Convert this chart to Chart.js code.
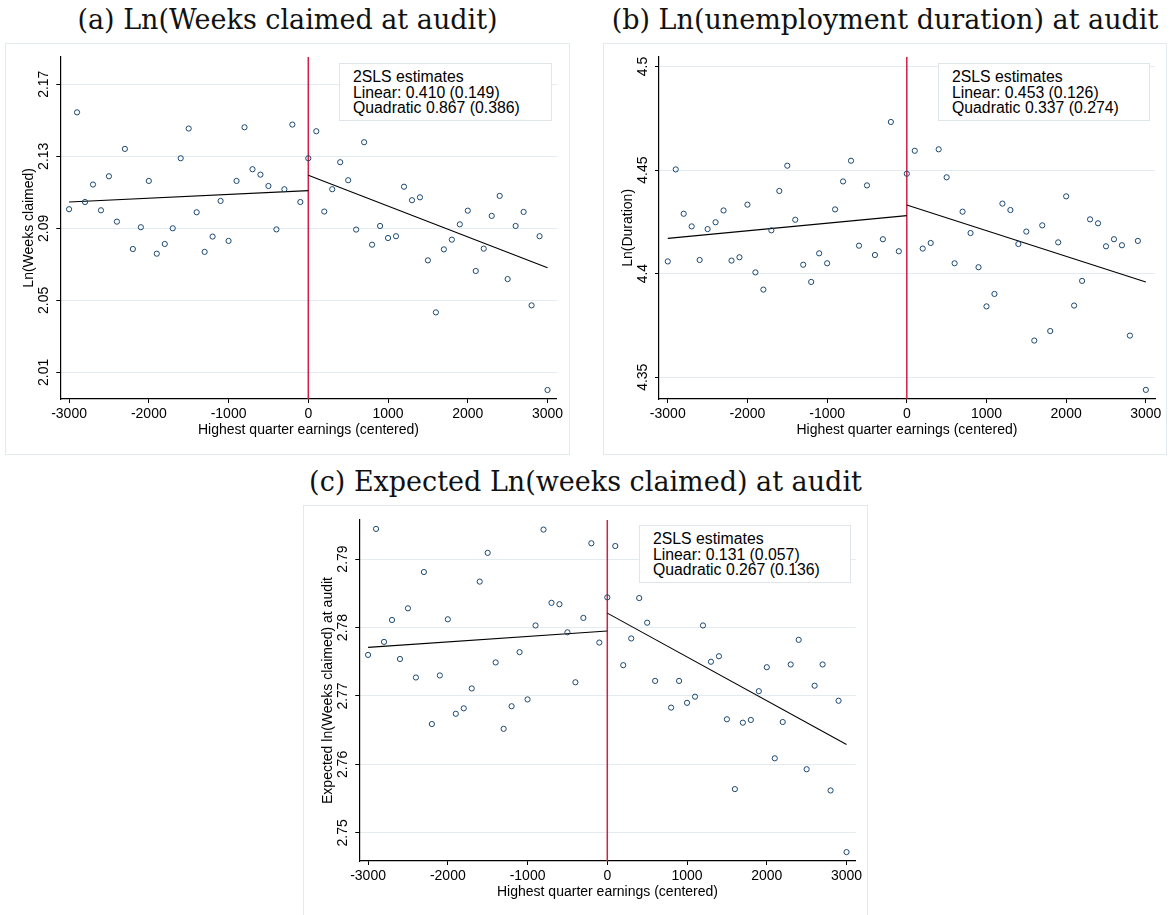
<!DOCTYPE html>
<html>
<head>
<meta charset="utf-8">
<script src="https://cdn.jsdelivr.net/npm/chart.js@4.4.1/dist/chart.umd.min.js"></script>
<style>
body { margin: 0; width: 1170px; height: 915px; background: #fff; position: relative; overflow: hidden; }
.titre { position: absolute; font-family: 'DejaVu Serif', serif; font-size: 27px; line-height: 32px; color: #111; white-space: nowrap; transform: translateX(-50%); }
.cadre { position: absolute; border: 1px solid #e3eaee; box-sizing: border-box; }
canvas { position: absolute; }
.legende { position: absolute; background: #fff; border: 1px solid #dfe6ea; box-sizing: border-box;
  font-family: 'Liberation Sans', Arial, sans-serif; font-size: 15.8px; line-height: 15.5px; color: #000;
  padding: 5px 0 0 13px; white-space: nowrap; }
</style>
</head>
<body>
<script>
// Tranches de revenus (centrées sur le seuil)
const xBins = [-3000, -2900, -2800, -2700, -2600, -2500, -2400, -2300, -2200, -2100,
  -2000, -1900, -1800, -1700, -1600, -1500, -1400, -1300, -1200, -1100,
  -1000, -900, -800, -700, -600, -500, -400, -300, -200, -100,
  0, 100, 200, 300, 400, 500, 600, 700, 800, 900,
  1000, 1100, 1200, 1300, 1400, 1500, 1600, 1700, 1800, 1900,
  2000, 2100, 2200, 2300, 2400, 2500, 2600, 2700, 2800, 2900, 3000];

// (a) Ln(semaines réclamées)
const weeksClaimed = [2.1006, 2.1544, 2.1046, 2.1143, 2.1000, 2.1189, 2.0937, 2.1341, 2.0785, 2.0906,
  2.1163, 2.0759, 2.0813, 2.0900, 2.1289, 2.1454, 2.0989, 2.0769, 2.0854, 2.1052,
  2.0830, 2.1163, 2.1461, 2.1228, 2.1198, 2.1135, 2.0894, 2.1117, 2.1476, 2.1046,
  2.1289, 2.1439, 2.0993, 2.1117, 2.1267, 2.1167, 2.0893, 2.1378, 2.0809, 2.0913,
  2.0846, 2.0856, 2.1131, 2.1056, 2.1072, 2.0722, 2.0433, 2.0783, 2.0837, 2.0922,
  2.0998, 2.0663, 2.0787, 2.0969, 2.1080, 2.0618, 2.0913, 2.0991, 2.0472, 2.0856, 2.0002];
const weeksFitLeft = [2.1046, 2.1109];
const weeksFitRight = [2.1194, 2.0681];
const weeksTicks = [2.01, 2.05, 2.09, 2.13, 2.17];
const weeksRange = [1.9952, 2.1853];
const weeksEstimates = ['2SLS estimates', 'Linear: 0.410 (0.149)', 'Quadratic 0.867 (0.386)'];

// (b) Ln(durée du chômage)
const lnDuration = [4.4059, 4.4503, 4.4289, 4.4228, 4.4066, 4.4215, 4.4248, 4.4305, 4.4063, 4.4079,
  4.4333, 4.4006, 4.3923, 4.4209, 4.4399, 4.4521, 4.4260, 4.4043, 4.3960, 4.4098,
  4.4050, 4.4310, 4.4445, 4.4545, 4.4135, 4.4426, 4.4090, 4.4166, 4.4732, 4.4108,
  4.4482, 4.4593, 4.4121, 4.4148, 4.4600, 4.4465, 4.4050, 4.4299, 4.4196, 4.4031,
  4.3842, 4.3902, 4.4338, 4.4307, 4.4143, 4.4203, 4.3677, 4.4233, 4.3723, 4.4151,
  4.4373, 4.3846, 4.3965, 4.4262, 4.4243, 4.4132, 4.4166, 4.4137, 4.3701, 4.4158, 4.3439];
const durationFitLeft = [4.4170, 4.4280];
const durationFitRight = [4.4331, 4.3960];
const durationTicks = [4.35, 4.4, 4.45, 4.5];
const durationRange = [4.3395, 4.5047];
const durationEstimates = ['2SLS estimates', 'Linear: 0.453 (0.126)', 'Quadratic 0.337 (0.274)'];

// (c) Ln(semaines réclamées) prédit
const expectedWeeks = [2.7760, 2.7944, 2.7779, 2.7811, 2.7754, 2.7828, 2.7727, 2.7881, 2.7659, 2.7730,
  2.7812, 2.7674, 2.7682, 2.7711, 2.7867, 2.7909, 2.7749, 2.7652, 2.7685, 2.7764,
  2.7695, 2.7803, 2.7943, 2.7836, 2.7834, 2.7793, 2.7720, 2.7814, 2.7923, 2.7778,
  2.7844, 2.7919, 2.7745, 2.7784, 2.7843, 2.7807, 2.7722, 2.7900, 2.7683, 2.7722,
  2.7690, 2.7699, 2.7803, 2.7750, 2.7758, 2.7666, 2.7564, 2.7661, 2.7665, 2.7707,
  2.7742, 2.7609, 2.7662, 2.7746, 2.7782, 2.7593, 2.7715, 2.7746, 2.7562, 2.7693, 2.7472];
const expectedFitLeft = [2.7771, 2.7795];
const expectedFitRight = [2.7821, 2.7629];
const expectedTicks = [2.75, 2.76, 2.77, 2.78, 2.79];
const expectedRange = [2.7459, 2.7957];
const expectedEstimates = ['2SLS estimates', 'Linear: 0.131 (0.057)', 'Quadratic 0.267 (0.136)'];

// Axe horizontal commun
const xTicks = [-3000, -2000, -1000, 0, 1000, 2000, 3000];
const xRange = [-3110, 3115];
const fitXLeft = [-3000, 0];
const fitXRight = [0, 3000];
const cutoff = 0;

const NAVY = '#1a476f';
const ROUGE = '#d21e46';
const GRILLE = '#e2ebef';
const POLICE = "'Liberation Sans', Arial, sans-serif";

// Plugin pour les libellés à la Stata (graduations verticales tournées)
const stataText = {
    id: 'stataText',
    afterDraw(chart, args, opts) {
        const { ctx, chartArea: a, scales: { x, y } } = chart;
        ctx.save();
        ctx.fillStyle = '#000';
        ctx.font = '14px ' + POLICE;
        ctx.textAlign = 'center';
        ctx.textBaseline = 'alphabetic';
        x.ticks.forEach(t => ctx.fillText(String(t.value), x.getPixelForValue(t.value), a.bottom + 19.3));
        ctx.fillText(opts.xTitle, (a.left + a.right) / 2, a.bottom + 35);
        y.ticks.forEach(t => {
            ctx.save();
            ctx.translate(a.left - 12, y.getPixelForValue(t.value));
            ctx.rotate(-Math.PI / 2);
            ctx.fillText(String(t.value), 0, 0);
            ctx.restore();
        });
        ctx.translate(a.left - 27.5, (a.top + a.bottom) / 2);
        ctx.rotate(-Math.PI / 2);
        ctx.fillText(opts.yTitle, 0, 0);
        ctx.restore();
    }
};

function ajouterTitre(texte, centre, top) {
    const div = document.createElement('div');
    div.className = 'titre';
    div.style.left = centre + 'px';
    div.style.top = top + 'px';
    div.textContent = texte;
    document.body.appendChild(div);
}

function ajouterLegende(lignes, pos) {
    const div = document.createElement('div');
    div.className = 'legende';
    Object.assign(div.style, { left: pos.left + 'px', top: pos.top + 'px', width: pos.width + 'px', height: pos.height + 'px' });
    lignes.forEach(l => {
        const p = document.createElement('div');
        p.textContent = l;
        div.appendChild(p);
    });
    document.body.appendChild(div);
}

// Fonction pour créer un panneau complet
function creerPanneau(p) {
    const cadre = document.createElement('div');
    cadre.className = 'cadre';
    Object.assign(cadre.style, { left: p.box.left + 'px', top: p.box.top + 'px', width: p.box.width + 'px', height: p.box.height + 'px' });
    document.body.appendChild(cadre);

    const canvas = document.createElement('canvas');
    canvas.width = p.box.width;
    canvas.height = p.box.height;
    canvas.style.left = p.box.left + 'px';
    canvas.style.top = p.box.top + 'px';
    document.body.appendChild(canvas);

    const areaLeft = p.area.left - p.box.left;
    const areaTop = p.area.top - p.box.top;
    const padRight = p.box.left + p.box.width - p.area.right;
    const xHeight = p.box.top + p.box.height - p.area.bottom;

    const points = xBins.map((x, i) => ({ x: x, y: p.values[i] })).filter(d => d.y !== null);

    new Chart(canvas, {
        type: 'scatter',
        data: {
            datasets: [
                {
                    data: points,
                    pointStyle: 'circle',
                    pointRadius: 2.6,
                    pointBorderWidth: 1,
                    borderColor: NAVY,
                    backgroundColor: 'rgba(0,0,0,0)'
                },
                {
                    data: fitXLeft.map((x, i) => ({ x: x, y: p.fitLeft[i] })),
                    showLine: true, pointRadius: 0, borderColor: '#000', borderWidth: 1.1
                },
                {
                    data: fitXRight.map((x, i) => ({ x: x, y: p.fitRight[i] })),
                    showLine: true, pointRadius: 0, borderColor: '#000', borderWidth: 1.1
                },
                {
                    data: [{ x: cutoff, y: p.range[0] }, { x: cutoff, y: p.range[1] }],
                    showLine: true, pointRadius: 0, borderColor: ROUGE, borderWidth: 1.5
                }
            ]
        },
        options: {
            responsive: false,
            animation: false,
            devicePixelRatio: 1,
            layout: { padding: { left: 0, top: areaTop, right: padRight, bottom: 0 } },
            plugins: {
                legend: { display: false },
                tooltip: { enabled: false },
                stataText: { xTitle: 'Highest quarter earnings (centered)', yTitle: p.yTitle }
            },
            scales: {
                x: {
                    type: 'linear',
                    min: xRange[0],
                    max: xRange[1],
                    afterBuildTicks: s => { s.ticks = xTicks.map(v => ({ value: v })); },
                    afterFit: s => { s.height = xHeight; },
                    ticks: { display: false },
                    grid: { drawOnChartArea: false, tickLength: 4, tickColor: '#000' },
                    border: { color: '#000', width: 1.2 }
                },
                y: {
                    type: 'linear',
                    min: p.range[0],
                    max: p.range[1],
                    afterBuildTicks: s => { s.ticks = p.ticks.map(v => ({ value: v })); },
                    afterFit: s => { s.width = areaLeft; },
                    ticks: { display: false },
                    grid: { color: GRILLE, lineWidth: 1, tickLength: 4, tickColor: '#000' },
                    border: { color: '#000', width: 1.2 }
                }
            }
        },
        plugins: [stataText]
    });

    ajouterTitre(p.title, p.box.left + p.box.width / 2, p.titleTop);
    ajouterLegende(p.estimates, p.legend);
}

document.addEventListener('DOMContentLoaded', () => {
    creerPanneau({
        title: '(a) Ln(Weeks claimed at audit)', titleTop: 3.6,
        box: { left: 5, top: 43, width: 565, height: 412 },
        area: { left: 60.3, top: 56.7, right: 556.7, bottom: 399 },
        legend: { left: 339, top: 63, width: 213, height: 58 },
        values: weeksClaimed, fitLeft: weeksFitLeft, fitRight: weeksFitRight,
        ticks: weeksTicks, range: weeksRange, yTitle: 'Ln(Weeks claimed)', estimates: weeksEstimates
    });
    creerPanneau({
        title: '(b) Ln(unemployment duration) at audit', titleTop: 3.6,
        box: { left: 603, top: 43, width: 564, height: 412 },
        area: { left: 659, top: 56.7, right: 1155, bottom: 399 },
        legend: { left: 938, top: 63, width: 212, height: 58 },
        values: lnDuration, fitLeft: durationFitLeft, fitRight: durationFitRight,
        ticks: durationTicks, range: durationRange, yTitle: 'Ln(Duration)', estimates: durationEstimates
    });
    creerPanneau({
        title: '(c) Expected Ln(weeks claimed) at audit', titleTop: 466.3,
        box: { left: 303, top: 505, width: 565, height: 412 },
        area: { left: 359.3, top: 520, right: 855.7, bottom: 861 },
        legend: { left: 639, top: 525, width: 212, height: 58 },
        values: expectedWeeks, fitLeft: expectedFitLeft, fitRight: expectedFitRight,
        ticks: expectedTicks, range: expectedRange, yTitle: 'Expected ln(Weeks claimed) at audit', estimates: expectedEstimates
    });
});
</script>
</body>
</html>
